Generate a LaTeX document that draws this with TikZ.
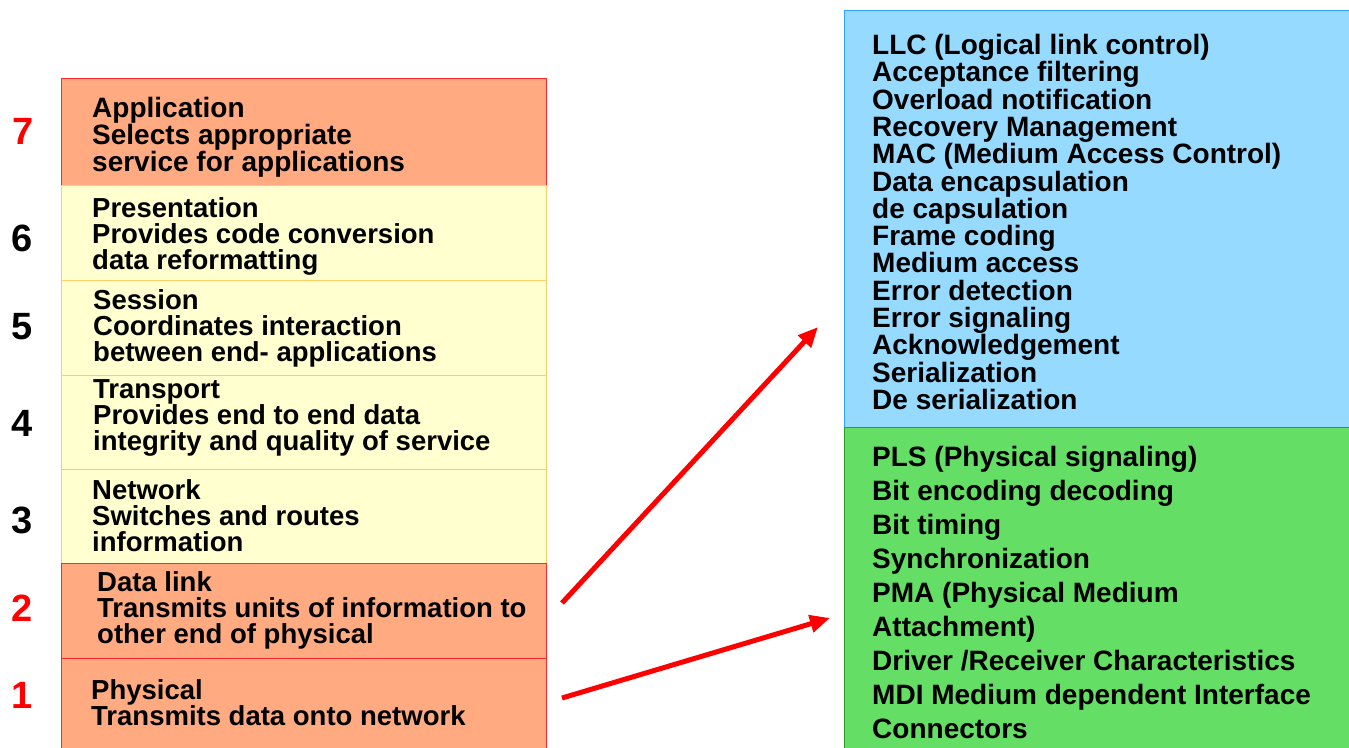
\documentclass[tikz,border=0pt]{standalone}
\usepackage{fontspec}
\setmainfont{Liberation Sans}
\usetikzlibrary{arrows.meta}
\definecolor{orfill}{RGB}{255,170,128}
\definecolor{orline}{RGB}{255,40,40}
\definecolor{yefill}{RGB}{255,255,208}
\definecolor{yeline}{RGB}{255,204,102}
\definecolor{blfill}{RGB}{150,218,255}
\definecolor{blline}{RGB}{51,160,255}
\definecolor{grfill}{RGB}{100,222,100}
\definecolor{grline}{RGB}{40,160,40}
\definecolor{arr}{RGB}{255,0,0}
\begin{document}
\begin{tikzpicture}[x=1pt,y=-1pt,
  layer/.style={rectangle,anchor=north west,inner sep=0pt,line width=1.2pt},
  redlayer/.style={layer,fill=orfill,draw=orline},
  yellayer/.style={layer,fill=yefill,draw=yeline},
  ltext/.style={anchor=west,align=left,inner sep=0pt,font=\bfseries\fontsize{27.5}{26}\selectfont},
  rtext/.style={anchor=west,align=left,inner sep=0pt,font=\bfseries\fontsize{28}{27.3}\selectfont},
  gtext/.style={anchor=west,align=left,inner sep=0pt,font=\bfseries\fontsize{28}{34}\selectfont},
  num/.style={anchor=center,inner sep=0pt,font=\bfseries\fontsize{38}{38}\selectfont},
  link/.style={draw=arr,line width=5pt,-{Triangle[length=20pt,width=17pt]}}]
\useasboundingbox (0,0) rectangle (1349,747);
% left stack
\node[redlayer,minimum width=485pt,minimum height=107pt] (l7) at (61,78) {};
\node[yellayer,minimum width=485pt,minimum height=95pt] (l6) at (61,185) {};
\node[yellayer,minimum width=485pt,minimum height=95pt] (l5) at (61,280) {};
\node[yellayer,minimum width=485pt,minimum height=94pt] (l4) at (61,375) {};
\node[yellayer,minimum width=485pt,minimum height=94pt] (l3) at (61,469) {};
\node[redlayer,minimum width=485pt,minimum height=95pt] (l2) at (61,563) {};
\node[redlayer,minimum width=485pt,minimum height=95pt] (l1) at (61,658) {};
% texts
\node[ltext,font=\bfseries\fontsize{28}{27}\selectfont] (t7) at (92,137) {Application\\Selects appropriate\\service for applications};
\node[ltext] (t6) at (92,236) {Presentation\\Provides code conversion\\data reformatting};
\node[ltext] (t5) at (93,328) {Session\\Coordinates interaction\\between end- applications};
\node[ltext] (t4) at (93,418) {Transport\\Provides end to end data\\integrity and quality of service};
\node[ltext] (t3) at (92,516) {Network\\Switches and routes\\information};
\node[ltext] (t2) at (97,610) {Data link\\Transmits units of information to\\other end of physical};
\node[ltext] (t1) at (91,703) {Physical\\Transmits data onto network};
% numbers
\node[num,text=arr] (n7) at (23,131) {7};
\node[num] (n6) at (22,238) {6};
\node[num] (n5) at (22,327) {5};
\node[num] (n4) at (22,423) {4};
\node[num] (n3) at (22,520) {3};
\node[num,text=arr] (n2) at (22,608) {2};
\node[num,text=arr] (n1) at (22,695) {1};
% right stack
\node[layer,fill=blfill,draw=blline,minimum width=510pt,minimum height=417pt] (dl) at (844,10) {};
\node[layer,fill=grfill,draw=grline,minimum width=510pt,minimum height=325pt] (ph) at (844,427) {};
\node[rtext] (tdl) at (872,222) {LLC (Logical link control)\\Acceptance filtering\\Overload notification\\Recovery Management\\MAC (Medium Access Control)\\Data encapsulation\\de capsulation\\Frame coding\\Medium access\\Error detection\\Error signaling\\Acknowledgement\\Serialization\\De serialization};
\node[gtext] (tph) at (872,592) {PLS (Physical signaling)\\Bit encoding decoding\\Bit timing\\Synchronization\\PMA (Physical Medium\\Attachment)\\Driver /Receiver Characteristics\\MDI Medium dependent Interface\\Connectors};
% arrows
\coordinate (s2) at (562,603);
\coordinate (e2) at (818,327);
\coordinate (s1) at (562,698);
\coordinate (e1) at (830,618);
\draw[link] (s2) -- (e2);
\draw[link] (s1) -- (e1);
\end{tikzpicture}
\end{document}
